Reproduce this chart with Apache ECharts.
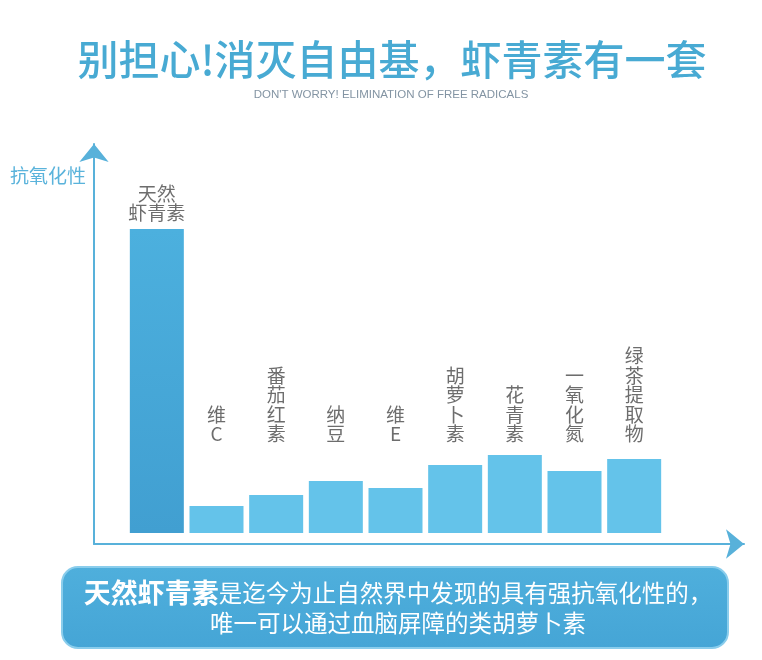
<!DOCTYPE html>
<html><head><meta charset="utf-8">
<script src="https://cdn.jsdelivr.net/npm/echarts@6/dist/echarts.min.js"></script>
<style>html,body{margin:0;padding:0;background:#fff}#c{width:762px;height:660px}</style>
</head><body><div id="c"></div>
<script>
const categories = ['天然虾青素','维C','番茄红素','纳豆','维E','胡萝卜素','花青素','一氧化氮','绿茶提取物'];
const barLabels = ['天然\n虾青素','维\nC','番\n茄\n红\n素','纳\n豆','维\nE','胡\n萝\n卜\n素','花\n青\n素','一\n氧\n化\n氮','绿\n茶\n提\n取\n物'];
const values = [304, 27, 38, 52, 45, 68, 78, 62, 74];
const titleText = '别担心!消灭自由基，虾青素有一套';
const subtitleText = "DON'T WORRY! ELIMINATION OF FREE RADICALS";
const yAxisName = '抗氧化性';
const noteBold = '天然虾青素';
const noteLine1 = '是迄今为止自然界中发现的具有强抗氧化性的，';
const noteLine2 = '唯一可以通过血脑屏障的类胡萝卜素';

const FONT = '"Noto Sans CJK SC", "Noto Sans", sans-serif';
const labelLevel = values.map(v => Math.max(v + 4, 87));

const chart = echarts.init(document.getElementById('c'), null, {renderer: 'canvas'});
const axisStyle = {
  show: true, onZero: false, symbol: ['none', 'arrow'], symbolSize: [22, 18],
  lineStyle: {color: '#58b1da', width: 2}
};
chart.setOption({
  backgroundColor: '#fff',
  animation: false,
  grid: [
    {left: 127, right: 98, top: 133, bottom: 127},
    {left: 94, right: 18, top: 144, bottom: 116}
  ],
  xAxis: [
    {type: 'category', gridIndex: 0, data: categories, axisLine: {show: false}, axisTick: {show: false}, axisLabel: {show: false}},
    {type: 'value', gridIndex: 1, min: 0, max: 1, axisLine: axisStyle, axisTick: {show: false}, axisLabel: {show: false}, splitLine: {show: false}}
  ],
  yAxis: [
    {type: 'value', gridIndex: 0, min: 0, max: 400, show: false},
    {type: 'value', gridIndex: 1, min: 0, max: 1, axisLine: axisStyle, axisTick: {show: false}, axisLabel: {show: false}, splitLine: {show: false}}
  ],
  series: [
    {
      type: 'bar', xAxisIndex: 0, yAxisIndex: 0, barWidth: 54, silent: true,
      itemStyle: {color: '#64c3ea'},
      data: values.map((v, i) => i === 0 ? {
        value: v,
        itemStyle: {color: new echarts.graphic.LinearGradient(0, 0, 0, 1, [
          {offset: 0, color: '#4cb0de'}, {offset: 1, color: '#419fd1'}
        ])}
      } : v)
    },
    {
      type: 'scatter', xAxisIndex: 0, yAxisIndex: 0, symbolSize: 0, silent: true,
      data: labelLevel,
      label: {
        show: true, position: 'top', distance: 2,
        formatter: p => barLabels[p.dataIndex],
        fontFamily: FONT, fontSize: 19, lineHeight: 19.5, color: '#484848', align: 'center'
      }
    }
  ],
  graphic: [
    {type: 'text', x: 392, y: 59, style: {text: titleText, font: '500 41px ' + FONT, fill: '#48aad3', align: 'center', verticalAlign: 'middle'}},
    {type: 'text', x: 391, y: 95, style: {text: subtitleText, font: '11.5px "Liberation Sans", Arial, sans-serif', fill: '#8394a3', align: 'center', verticalAlign: 'middle'}},
    {type: 'text', x: 10, y: 176, style: {text: yAxisName, font: '19px ' + FONT, fill: '#5ab3db', align: 'left', verticalAlign: 'middle'}},
    {type: 'rect', shape: {x: 62, y: 567, width: 666, height: 81, r: 16},
      style: {fill: new echarts.graphic.LinearGradient(0, 0, 0, 1, [
        {offset: 0, color: '#4fafdc'}, {offset: 1, color: '#45a5d6'}
      ]), stroke: '#8acdec', lineWidth: 2}},
    {type: 'text', x: 398, y: 608, style: {
      text: '{b|' + noteBold + '}{n|' + noteLine1 + '}\n{n|' + noteLine2 + '}',
      align: 'center', verticalAlign: 'middle', fill: '#fff',
      rich: {
        b: {font: 'bold 27px ' + FONT, fill: '#fff', lineHeight: 30},
        n: {font: '23.5px ' + FONT, fill: '#fff', lineHeight: 30}
      }
    }}
  ]
});
</script></body></html>
